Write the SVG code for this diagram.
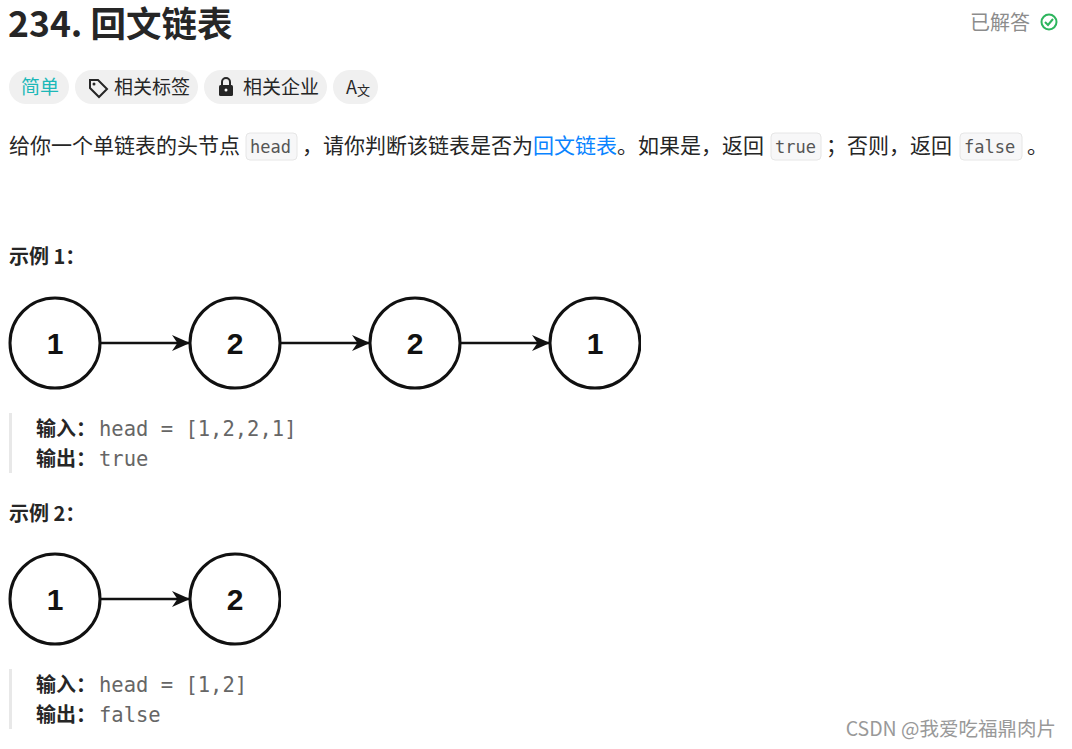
<svg xmlns="http://www.w3.org/2000/svg" width="1072" height="749" viewBox="0 0 1072 749">
<style>
.t{font-family:"Noto Sans CJK SC","Noto Sans",sans-serif;fill:#262626}
.m{font-family:"DejaVu Sans Mono","Liberation Mono",monospace}
.n{fill:#fff;stroke:#111;stroke-width:3}
.nl{font-family:"Liberation Sans",Arial,sans-serif;font-weight:bold;font-size:30px;text-anchor:middle;fill:#111}
.e{stroke:#111;stroke-width:2.5;fill:none;marker-end:url(#a)}
.pill{fill:#f0f0f0}
.code{fill:#f7f7f8;stroke:#e6e6e6}
</style>
<defs><marker id="a" viewBox="0 0 10 10" refX="10" refY="5" markerWidth="18" markerHeight="16" markerUnits="userSpaceOnUse" orient="auto" preserveAspectRatio="none"><path d="M0,0 L10,5 L0,10 L3,5 z" fill="#111"/></marker>
<clipPath id="c1"><rect x="0" y="290" width="641" height="110"/></clipPath>
<clipPath id="c2"><rect x="0" y="545" width="281" height="110"/></clipPath></defs>
<rect width="1072" height="749" fill="#fff"/>
<text x="8" y="37" class="t" font-size="35.5" font-weight="bold">234. 回文链表</text>
<text x="970" y="30" class="t" font-size="20" style="fill:#8c8c8c">已解答</text>
<circle cx="1049" cy="22" r="7.5" fill="none" stroke="#2db55d" stroke-width="2"/><path d="M1045,22 l3,3 l5,-6" fill="none" stroke="#2db55d" stroke-width="2"/>
<rect class="pill" x="9" y="70" width="60" height="34" rx="17"/>
<text x="21" y="94" class="t" font-size="19" style="fill:#1cb8b8">简单</text>
<rect class="pill" x="75" y="70" width="123" height="34" rx="17"/>
<path d="M90,80 v8 l9,9 l8,-8 l-9,-9 z" fill="none" stroke="#262626" stroke-width="2"/><circle cx="94" cy="84" r="1.5" fill="#262626"/>
<text x="114" y="94" class="t" font-size="19">相关标签</text>
<rect class="pill" x="204" y="70" width="123" height="34" rx="17"/>
<rect x="219" y="85" width="14" height="11" rx="1.5" fill="#262626"/><path d="M222,85 v-3 a4,4 0 0 1 8,0 v3" fill="none" stroke="#262626" stroke-width="2"/><circle cx="226" cy="90" r="1.5" fill="#fff"/>
<text x="243" y="94" class="t" font-size="19">相关企业</text>
<rect class="pill" x="333" y="70" width="45" height="34" rx="17"/>
<text x="346" y="94" class="t" font-size="18">A</text><text x="357" y="95" class="t" font-size="13">文</text>
<text x="9" y="153" class="t" font-size="21">给你一个单链表的头节点</text>
<rect class="code" x="246" y="133" width="51" height="27" rx="4"/>
<text x="250" y="153" class="m" font-size="17" fill="#555">head</text>
<text x="302" y="153" class="t" font-size="21">，请你判断该链表是否为<tspan style="fill:#0a84ff">回文链表</tspan>。如果是，返回</text>
<rect class="code" x="771" y="133" width="50" height="27" rx="4"/>
<text x="775" y="153" class="m" font-size="17" fill="#555">true</text>
<text x="826" y="153" class="t" font-size="21">；否则，返回</text>
<rect class="code" x="960" y="133" width="62" height="27" rx="4"/>
<text x="964" y="153" class="m" font-size="17" fill="#555">false</text>
<text x="1027" y="153" class="t" font-size="21">。</text>
<text x="9" y="264" class="t" font-size="20" font-weight="bold">示例 1：</text>
<g id="connectors">
<line class="e" x1="101" y1="343" x2="190" y2="343"/>
<line class="e" x1="281" y1="343" x2="370" y2="343"/>
<line class="e" x1="461" y1="343" x2="550" y2="343"/>
<line class="e" x1="101" y1="599" x2="190" y2="599"/>
</g>
<g clip-path="url(#c1)">
<g id="n1"><circle class="n" cx="55" cy="343" r="45"/><text class="nl" x="55" y="354">1</text></g>
<g id="n2"><circle class="n" cx="235" cy="343" r="45"/><text class="nl" x="235" y="354">2</text></g>
<g id="n3"><circle class="n" cx="415" cy="343" r="45"/><text class="nl" x="415" y="354">2</text></g>
<g id="n4"><circle class="n" cx="595" cy="343" r="45"/><text class="nl" x="595" y="354">1</text></g>
</g>
<rect x="9" y="413" width="3" height="60" fill="#e8e8e8"/>
<text x="36" y="436" class="t" font-size="20" font-weight="bold">输入：</text><text x="99" y="436" class="m" font-size="20.5" fill="#666">head = [1,2,2,1]</text>
<text x="36" y="466" class="t" font-size="20" font-weight="bold">输出：</text><text x="99" y="466" class="m" font-size="20.5" fill="#666">true</text>
<text x="9" y="521" class="t" font-size="20" font-weight="bold">示例 2：</text>
<g clip-path="url(#c2)">
<g id="m1"><circle class="n" cx="55" cy="599" r="45"/><text class="nl" x="55" y="610">1</text></g>
<g id="m2"><circle class="n" cx="235" cy="599" r="45"/><text class="nl" x="235" y="610">2</text></g>
</g>
<rect x="9" y="669" width="3" height="60" fill="#e8e8e8"/>
<text x="36" y="692" class="t" font-size="20" font-weight="bold">输入：</text><text x="99" y="692" class="m" font-size="20.5" fill="#666">head = [1,2]</text>
<text x="36" y="722" class="t" font-size="20" font-weight="bold">输出：</text><text x="99" y="722" class="m" font-size="20.5" fill="#666">false</text>
<text x="1056" y="736" text-anchor="end" class="t" font-size="19.5" style="fill:#999">CSDN @我爱吃福鼎肉片</text>
</svg>
